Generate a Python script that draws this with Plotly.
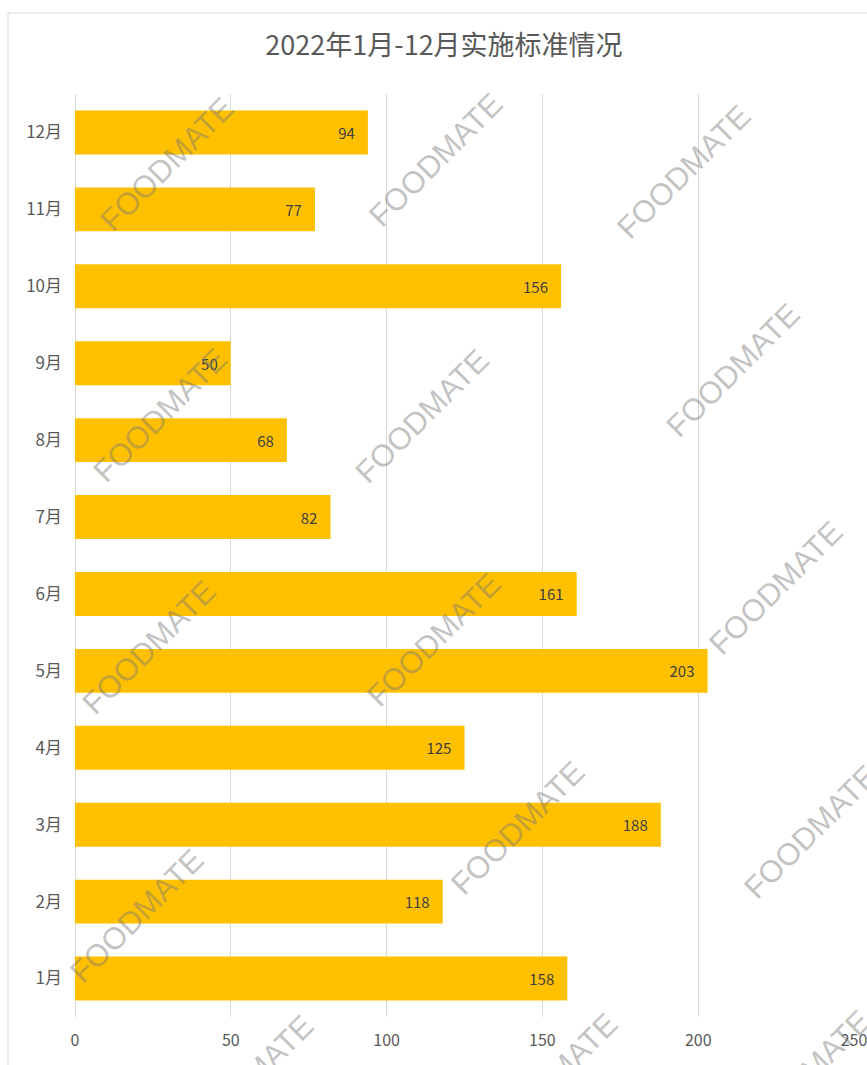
import plotly.graph_objects as go

months = ["1月", "2月", "3月", "4月", "5月", "6月", "7月", "8月", "9月", "10月", "11月", "12月"]
counts = [158, 118, 188, 125, 203, 161, 82, 68, 50, 156, 77, 94]
x_ticks = [0, 50, 100, 150, 200, 250]
title_text = "2022年1月-12月实施标准情况"
watermark = "FOODMATE"

W, H = 867, 1065
L, T = 75, 94
R = W - 854
B = H - 1017
pw, ph = W - L - R, H - T - B

def px(x):
    return (x - L) / pw

def py(y):
    return (H - B - y) / ph

# watermark centres in pixel coordinates of the reference picture
wm_centres = [(167, 165), (435, 160), (683, 172),
              (160, 416), (422, 417), (733, 371),
              (149, 648), (433, 640), (775, 588),
              (136, 916), (517, 828), (810, 832),
              (246, 1082), (550, 1080), (803, 1077)]

CJK = "Noto Sans CJK SC"

fig = go.Figure()
fig.add_trace(go.Bar(
    y=months, x=counts, orientation="h",
    marker=dict(color="#FFC000", line=dict(width=0)),
    text=counts,
    texttemplate="%{x}\u00a0\u00a0\u00a0",
    textposition="inside", insidetextanchor="end",
    textfont=dict(family=CJK, size=15, color="#404040"),
    constraintext="none",
    hoverinfo="skip",
))

annotations = []
for cx, cy in wm_centres:
    annotations.append(dict(
        x=px(cx), y=py(cy), xref="paper", yref="paper",
        text=watermark, showarrow=False, textangle=-45,
        font=dict(family="Liberation Sans", size=31, color="rgba(120,120,120,0.45)"),
        xanchor="center", yanchor="middle",
    ))

fig.update_layout(
    width=W, height=H,
    margin=dict(l=L, r=R, t=T, b=B, autoexpand=False),
    paper_bgcolor="white", plot_bgcolor="white",
    showlegend=False,
    bargap=0.43,
    title=dict(text=title_text, x=px(444), xref="paper", xanchor="center",
               y=1 - 46 / H, yref="container", yanchor="middle",
               font=dict(family=CJK, size=27, color="#595959")),
    xaxis=dict(range=[0, 250], tickvals=x_ticks, showgrid=True, gridcolor="#D9D9D9",
               gridwidth=1, zeroline=True, zerolinecolor="#D9D9D9", zerolinewidth=1,
               showline=False, ticks="", ticklabelstandoff=12, automargin=False,
               ticklabeloverflow="allow",
               tickfont=dict(family=CJK, size=16, color="#595959")),
    yaxis=dict(categoryorder="array", categoryarray=months, showgrid=False,
               zeroline=False, showline=False, ticks="", ticklabelstandoff=12,
               automargin=False,
               tickfont=dict(family=CJK, size=17, color="#595959")),
    annotations=annotations,
    shapes=[dict(type="rect", xref="paper", yref="paper",
                 x0=px(8), x1=px(W + 20), y0=py(H + 20), y1=py(13),
                 line=dict(color="#D9D9D9", width=1), fillcolor="rgba(0,0,0,0)",
                 layer="below")],
)

fig.write_html(
    "out.html",
    config={"displayModeBar": False},
    post_script="document.body.style.margin='0';document.body.style.overflow='hidden';",
)
